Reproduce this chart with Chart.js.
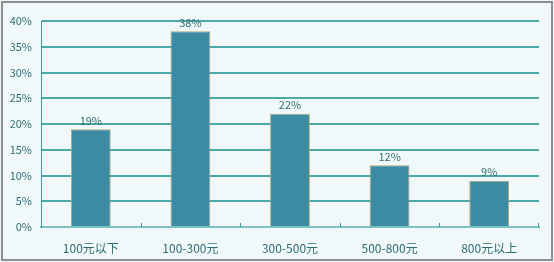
<!DOCTYPE html>
<html>
<head>
<meta charset="utf-8">
<script src="https://cdn.jsdelivr.net/npm/chart.js@4"></script>
<style>
  html, body { margin: 0; padding: 0; background: #fff; }
  #wrap { width: 554px; height: 262px; }
</style>
</head>
<body>
<div id="wrap"><canvas id="c" width="554" height="262"></canvas></div>
<script>
const categories = ['100元以下', '100-300元', '300-500元', '500-800元', '800元以上'];
const shares = [19, 38, 22, 12, 9];
const yTicks = [0, 5, 10, 15, 20, 25, 30, 35, 40];

const FONT = '"Noto Sans CJK SC", "DejaVu Sans", sans-serif';
const TEXT = '#2E6E72';

// background, frame, small category ticks and value labels
const frame = {
  id: 'frame',
  beforeDraw(chart) {
    const ctx = chart.ctx;
    ctx.save();
    ctx.fillStyle = '#F1F8FA';
    ctx.fillRect(0, 0, chart.width, chart.height);
    ctx.strokeStyle = '#8E8E8E';
    ctx.lineWidth = 2;
    ctx.strokeRect(2, 2, chart.width - 4, chart.height - 4);
    ctx.restore();
  },
  afterDatasetsDraw(chart) {
    const ctx = chart.ctx;
    const x = chart.scales.x;
    const area = chart.chartArea;
    ctx.save();
    ctx.strokeStyle = '#3A9A9A';
    ctx.lineWidth = 1;
    for (let i = 1; i <= categories.length; i++) {
      const px = i < categories.length
        ? Math.round((x.getPixelForTick(i - 1) + x.getPixelForTick(i)) / 2) + 0.5
        : area.right - 0.5;
      ctx.beginPath();
      ctx.moveTo(px, area.bottom - 4);
      ctx.lineTo(px, area.bottom);
      ctx.stroke();
    }
    ctx.fillStyle = TEXT;
    ctx.font = '11px ' + FONT;
    ctx.textAlign = 'center';
    ctx.textBaseline = 'bottom';
    chart.getDatasetMeta(0).data.forEach((bar, i) => {
      ctx.fillText(shares[i] + '%', bar.x, bar.y - 3);
    });
    ctx.restore();
  }
};

new Chart(document.getElementById('c'), {
  type: 'bar',
  data: {
    labels: categories,
    datasets: [{
      data: shares,
      backgroundColor: '#3B8BA3',
      borderColor: '#B3A677',
      borderWidth: 1,
      barPercentage: 0.4,
      categoryPercentage: 1
    }]
  },
  options: {
    responsive: false,
    animation: false,
    layout: { padding: { left: 0, right: 15, top: 21, bottom: 0 } },
    plugins: { legend: { display: false }, tooltip: { enabled: false } },
    scales: {
      x: {
        afterFit(s) { s.height = 35; },
        grid: { display: false },
        border: { display: true, color: '#7CC2C2', width: 2 },
        ticks: { color: TEXT, font: { family: FONT, size: 12 }, padding: 6, maxRotation: 0 }
      },
      y: {
        min: 0,
        max: 40,
        afterFit(s) { s.width = 41; },
        afterBuildTicks(s) { s.ticks = yTicks.map(v => ({ value: v })); },
        grid: { color: '#4FA8A8', lineWidth: 2, drawTicks: false },
        border: { display: true, color: '#3A9A9A', width: 1 },
        ticks: {
          color: TEXT,
          font: { family: FONT, size: 11 },
          padding: 9,
          callback: v => v + '%'
        }
      }
    }
  },
  plugins: [frame]
});
</script>
</body>
</html>
